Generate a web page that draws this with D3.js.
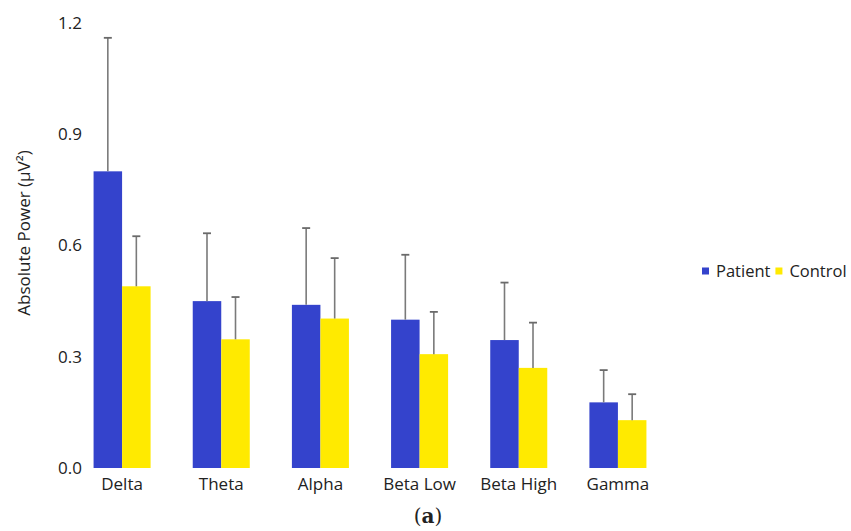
<!DOCTYPE html>
<html>
<head>
<meta charset="utf-8">
<script src="https://cdn.jsdelivr.net/npm/d3@7"></script>
<style>
	body { margin: 0; background: #fff; }
	text { font-family: "Open Sans", sans-serif; fill: #222; }
</style>
</head>
<body>
<div id="chart"></div>
<script>
const bands = ["Delta", "Theta", "Alpha", "Beta Low", "Beta High", "Gamma"]
const groups = ["Patient", "Control"]
const patientMean = [0.80, 0.45, 0.44, 0.40, 0.345, 0.177]
const patientSd = [0.36, 0.183, 0.207, 0.175, 0.155, 0.087]
const controlMean = [0.49, 0.347, 0.403, 0.307, 0.270, 0.129]
const controlSd = [0.135, 0.114, 0.163, 0.114, 0.122, 0.07]
const yTicks = [0, 0.3, 0.6, 0.9, 1.2]

const width = 851
const height = 531
const colors = { Patient: "#3443cc", Control: "#ffea00" }

const data = bands.map((b, i) => ({
	band: b,
	values: [
		{ group: "Patient", mean: patientMean[i], sd: patientSd[i] },
		{ group: "Control", mean: controlMean[i], sd: controlSd[i] },
	],
}))

const svg = d3
	.select("#chart")
	.append("svg")
	.attr("width", width)
	.attr("height", height)

const x = d3
	.scaleBand()
	.domain(bands)
	.range([72.5, 667.5])
	.paddingInner(0.425)
	.paddingOuter(0.2125)

const xInner = d3.scaleBand().domain(groups).range([0, x.bandwidth()])

const y = d3.scaleLinear().domain([0, 1.2]).range([468, 23])

// y tick labels only (no axis line)
const yAxis = svg
	.append("g")
	.attr("transform", "translate(84,0)")
	.call(d3.axisLeft(y).tickValues(yTicks).tickFormat(d3.format(".1f")).tickSize(0).tickPadding(2))
yAxis.select(".domain").remove()
yAxis.selectAll("text").style("font-size", "17px").style("font-family", "Open Sans, sans-serif").attr("fill", "#222")

// x labels
const xAxis = svg
	.append("g")
	.attr("transform", "translate(0,468)")
	.call(d3.axisBottom(x).tickSize(0).tickPadding(10))
xAxis.select(".domain").remove()
xAxis.selectAll("text").style("font-size", "17px").style("font-family", "Open Sans, sans-serif").attr("fill", "#222")

// bars
const g = svg
	.selectAll(".group")
	.data(data)
	.join("g")
	.attr("class", "group")
	.attr("transform", (d) => `translate(${x(d.band)},0)`)

g.selectAll("rect")
	.data((d) => d.values)
	.join("rect")
	.attr("x", (d) => xInner(d.group))
	.attr("y", (d) => y(d.mean))
	.attr("width", xInner.bandwidth())
	.attr("height", (d) => y(0) - y(d.mean))
	.attr("fill", (d) => colors[d.group])

// error bars (upper only)
const err = g
	.selectAll(".err")
	.data((d) => d.values)
	.join("g")
	.attr("class", "err")
	.attr("transform", (d) => `translate(${xInner(d.group) + xInner.bandwidth() / 2},0)`)

err.append("line")
	.attr("y1", (d) => y(d.mean))
	.attr("y2", (d) => y(d.mean + d.sd))
	.attr("stroke", "#7a7a7a")
	.attr("stroke-width", 1.6)

err.append("line")
	.attr("x1", -4)
	.attr("x2", 4)
	.attr("y1", (d) => y(d.mean + d.sd))
	.attr("y2", (d) => y(d.mean + d.sd))
	.attr("stroke", "#6a6a6a")
	.attr("stroke-width", 1.8)

// y axis title
svg.append("text")
	.attr("transform", "translate(30,233) rotate(-90)")
	.attr("text-anchor", "middle")
	.style("font-size", "17px")
	.text("Absolute Power (μV²)")

// legend
const legend = svg.append("g").attr("transform", "translate(702,271)")
let lx = 0
groups.forEach((name) => {
	legend.append("rect")
		.attr("x", lx)
		.attr("y", -3.5)
		.attr("width", 7)
		.attr("height", 7)
		.attr("fill", colors[name])
	const t = legend.append("text")
		.attr("x", lx + 14)
		.attr("y", 6)
		.style("font-size", "16.5px")
		.text(name)
	lx += 14 + t.node().getComputedTextLength() + 5
})

// caption
svg.append("text")
	.attr("x", 428)
	.attr("y", 523)
	.attr("text-anchor", "middle")
	.style("font-family", "DejaVu Serif, serif")
	.style("font-size", "20px")
	.html('(<tspan font-weight="bold">a</tspan>)')
</script>
</body>
</html>
